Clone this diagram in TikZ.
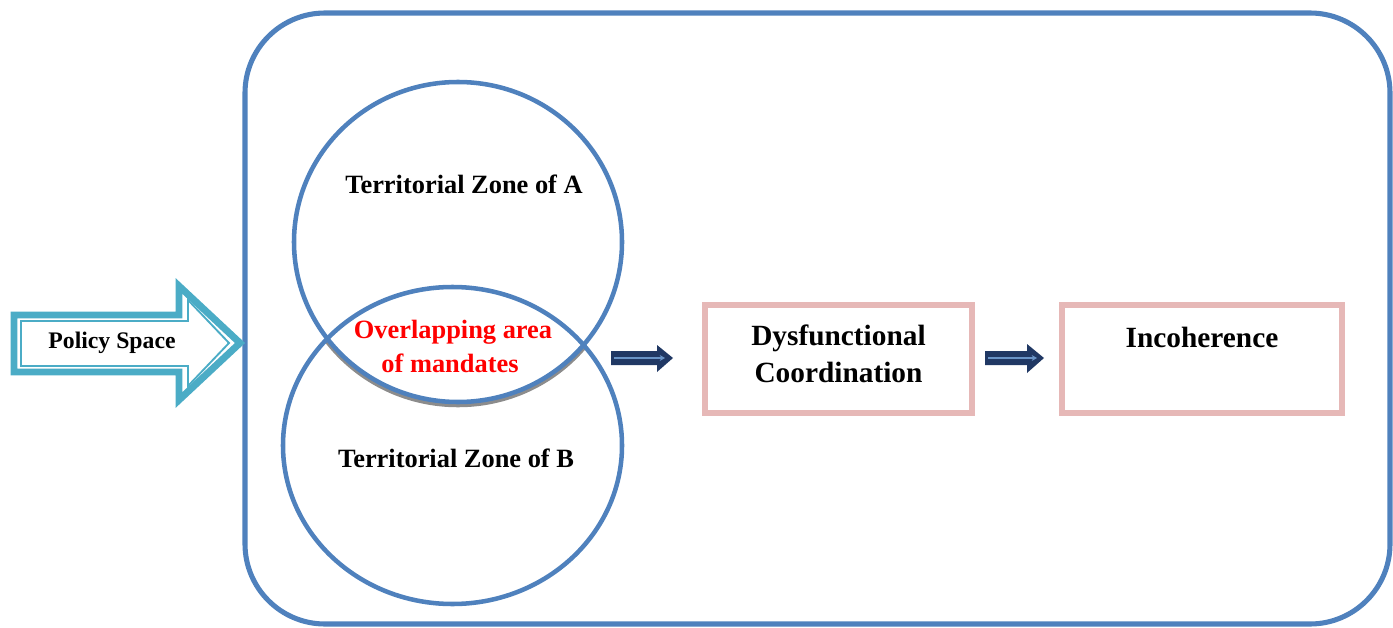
\documentclass[tikz,border=0pt]{standalone}
\usepackage{fontspec}
\setmainfont{Liberation Serif}
\usetikzlibrary{shapes.geometric,arrows.meta}
\definecolor{zoneblue}{HTML}{4F81BD}
\definecolor{policyteal}{HTML}{4BACC6}
\definecolor{stepnavy}{RGB}{32,56,100}
\definecolor{boxpink}{HTML}{E6B8B7}
\definecolor{overlapred}{HTML}{FF0000}
\definecolor{shadowgray}{RGB}{140,140,140}

\begin{document}
\begin{tikzpicture}[x=0.75pt,y=-0.75pt,
  frame/.style={rectangle, draw=zoneblue, line width=3.8pt, rounded corners=60pt,
    minimum width=858.75pt, minimum height=458.25pt, inner sep=0pt},
  zone/.style={ellipse, draw=zoneblue, line width=3.4pt, inner sep=0pt},
  outcome/.style={rectangle, draw=boxpink, line width=4.5pt, fill=white,
    minimum height=81pt, inner sep=0pt},
  zonetext/.style={font=\fontsize{19.8}{24}\selectfont\bfseries, inner sep=0pt, anchor=base},
  redtext/.style={zonetext, text=overlapred},
  bigtext/.style={font=\fontsize{22}{27.5}\selectfont\bfseries, inner sep=0pt, anchor=base},
  policytext/.style={font=\fontsize{17.8}{21}\selectfont\bfseries, inner sep=0pt, anchor=base},
  stepshape/.style={fill=stepnavy},
  stepline/.style={draw=zoneblue!85!white, line width=1.4pt, -{Stealth[length=4pt,width=4.5pt]}}
]
\useasboundingbox (0,0) rectangle (1393,628);

% policy space frame
\node[frame] (space) at (817.5,318.5) {};

% policy space arrow: thick outer band, thin inner line
\path[draw=policyteal, fill=white, line width=5.2pt, miter limit=10]
  (14,315) -- (179,315) -- (179,286) -- (240,343) -- (179,400) -- (179,372) -- (14,372) -- cycle;
\path[draw=policyteal, line width=1.4pt, miter limit=10]
  (21,321) -- (188,321) -- (188,300) -- (229,343) -- (188,386) -- (188,366) -- (21,366) -- cycle;
\node[policytext] (policy) at (112,348) {Policy Space};

% shadow under the lower edge of the overlap
\begin{scope}
  \clip (452.5,445.5) ellipse [x radius=127.125pt, y radius=118.875pt];
  \draw[shadowgray, line width=3.4pt] (458,245) ellipse [x radius=123pt, y radius=120pt];
\end{scope}

% territorial zones
\node[zone, minimum width=246pt, minimum height=240pt] (zoneA) at (458,242) {};
\node[zone, minimum width=254.25pt, minimum height=237.75pt] (zoneB) at (452.5,445.5) {};

\node[zonetext] (labelA) at (464,193) {Territorial Zone of A};
\node[zonetext] (labelB) at (456,467) {Territorial Zone of B};
\node[redtext] (overlap1) at (453,338) {Overlapping area};
\node[redtext] (overlap2) at (450,372) {of mandates};

% outcome boxes
\node[outcome, minimum width=200.25pt] (dysf) at (838.5,359) {};
\node[bigtext] (dysf1) at (838.5,345) {Dysfunctional};
\node[bigtext] (dysf2) at (838.5,382) {Coordination};

\node[outcome, minimum width=210pt] (incoh) at (1202,359) {};
\node[bigtext] (incoh1) at (1202,347) {Incoherence};

% block arrows between stages
\coordinate (s1b) at (673,358);
\coordinate (s2b) at (1044,358);
\fill[stepshape] (611,351) -- (657,351) -- (657,345) -- (s1b) -- (657,372) -- (657,365) -- (611,365) -- cycle;
\draw[stepline] (614,358) -- (665,358);
\fill[stepshape] (985,351) -- (1027,351) -- (1027,344) -- (s2b) -- (1027,373) -- (1027,365) -- (985,365) -- cycle;
\draw[stepline] (988,358) -- (1037,358);
\end{tikzpicture}
\end{document}
